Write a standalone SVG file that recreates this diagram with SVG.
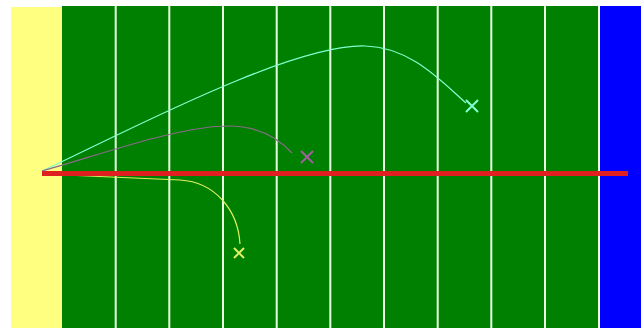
<svg xmlns="http://www.w3.org/2000/svg" width="641" height="328" viewBox="0 0 641 328">
<style>
.yl{stroke:#e8ffe0;stroke-width:2}
.tr{fill:none;stroke-width:1.2}
.x{stroke-width:2;fill:none}
</style>
<rect x="0" y="0" width="641" height="328" fill="#ffffff"/>
<g id="field">
<rect x="11" y="7" width="51" height="321" fill="#ffff80"/>
<rect x="62" y="6" width="538" height="322" fill="#008000"/>
<rect x="600" y="6" width="41" height="322" fill="#0000ff"/>
<g id="yardlines">
<line class="yl" x1="115.7" y1="6" x2="115.7" y2="328"/>
<line class="yl" x1="169.3" y1="6" x2="169.3" y2="328"/>
<line class="yl" x1="223" y1="6" x2="223" y2="328"/>
<line class="yl" x1="276.7" y1="6" x2="276.7" y2="328"/>
<line class="yl" x1="330.3" y1="6" x2="330.3" y2="328"/>
<line class="yl" x1="384" y1="6" x2="384" y2="328"/>
<line class="yl" x1="437.7" y1="6" x2="437.7" y2="328"/>
<line class="yl" x1="491.3" y1="6" x2="491.3" y2="328"/>
<line class="yl" x1="545" y1="6" x2="545" y2="328"/>
<line class="yl" x1="599" y1="6" x2="599" y2="328"/>
</g>
</g>
<g id="connectors">
<path class="tr" stroke="#80ffd0" d="M42,171 C120,135 290,44 365,46 C410,47 440,80 466,103"/>
<path class="tr" stroke="#8a6a8a" d="M42,171 C100,155 180,125 232,126 C262,127 280,140 292,153"/>
<path class="tr" stroke="#e0f060" d="M42,174 L180,180 C215,182 238,210 240,244"/>
</g>
<g id="scrimmage">
<line x1="42" y1="173.5" x2="628" y2="173.5" stroke="#e02020" stroke-width="5"/>
</g>
<g id="target-cyan">
<path class="x" stroke="#80ffd0" d="M466,100 L478,112 M478,100 L466,112"/>
</g>
<g id="target-purple">
<path class="x" stroke="#a060a0" d="M301,151 L313,163 M313,151 L301,163"/>
</g>
<g id="target-yellow">
<path class="x" stroke="#e0f060" d="M234,248 L244,258 M244,248 L234,258"/>
</g>
</svg>
